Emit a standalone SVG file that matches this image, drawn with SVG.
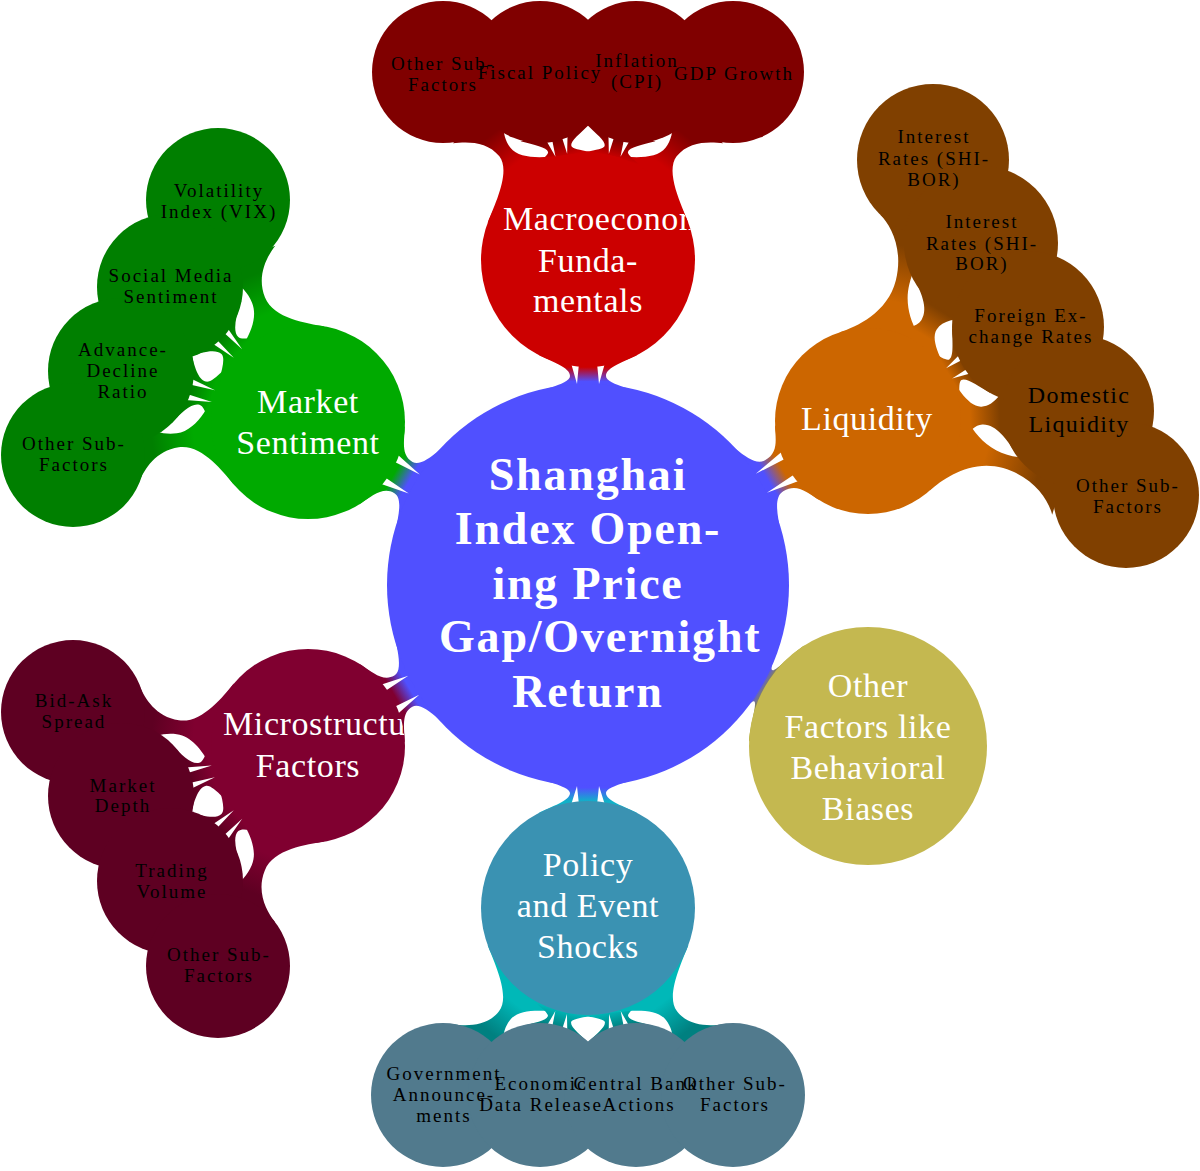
<svg xmlns="http://www.w3.org/2000/svg" width="1200" height="1171" viewBox="0 0 1200 1171">
<style>
.root{font-family:"Liberation Serif",serif;font-weight:bold;font-size:46px;letter-spacing:1.8px;fill:#fff;text-anchor:middle}
.l1{font-family:"Liberation Serif",serif;font-size:34px;letter-spacing:0.6px;fill:#fff;text-anchor:middle}
.l2{font-family:"Liberation Serif",serif;font-size:19px;letter-spacing:2px;fill:#000;text-anchor:middle}
.l2b{font-family:"Liberation Serif",serif;font-size:24px;letter-spacing:1.3px;fill:#000;text-anchor:middle}
.spk{fill:#fff}
</style>
<defs>
<linearGradient id="g1mac" x1="0" y1="0" x2="1" y2="0"><stop offset="0.4" stop-color="#5050FF"/><stop offset="0.72" stop-color="#CC0000"/></linearGradient>
<linearGradient id="g1liq" x1="0" y1="0" x2="1" y2="0"><stop offset="0.4" stop-color="#5050FF"/><stop offset="0.72" stop-color="#CC6600"/></linearGradient>
<linearGradient id="g1oth" x1="0" y1="0" x2="1" y2="0"><stop offset="0.4" stop-color="#5050FF"/><stop offset="0.72" stop-color="#9C9A10"/></linearGradient>
<linearGradient id="g1pol" x1="0" y1="0" x2="1" y2="0"><stop offset="0.4" stop-color="#5050FF"/><stop offset="0.72" stop-color="#10B2C8"/></linearGradient>
<linearGradient id="g1mic" x1="0" y1="0" x2="1" y2="0"><stop offset="0.4" stop-color="#5050FF"/><stop offset="0.72" stop-color="#800030"/></linearGradient>
<linearGradient id="g1mkt" x1="0" y1="0" x2="1" y2="0"><stop offset="0.4" stop-color="#5050FF"/><stop offset="0.72" stop-color="#00AA00"/></linearGradient>
<linearGradient id="g2mac" x1="0" y1="0" x2="1" y2="0"><stop offset="0.35" stop-color="#CC0000"/><stop offset="0.8" stop-color="#800000"/></linearGradient>
<linearGradient id="g2liq" x1="0" y1="0" x2="1" y2="0"><stop offset="0.35" stop-color="#CC6600"/><stop offset="0.8" stop-color="#804000"/></linearGradient>
<linearGradient id="g2mkt" x1="0" y1="0" x2="1" y2="0"><stop offset="0.35" stop-color="#00AA00"/><stop offset="0.8" stop-color="#007F00"/></linearGradient>
<linearGradient id="g2mic" x1="0" y1="0" x2="1" y2="0"><stop offset="0.35" stop-color="#800030"/><stop offset="0.8" stop-color="#5E0022"/></linearGradient>
<linearGradient id="g2pol" x1="0" y1="0" x2="1" y2="0"><stop offset="0.35" stop-color="#00B8B8"/><stop offset="0.8" stop-color="#008080"/></linearGradient>
<path id="cM_long" d="M90.7,-56.7 C100.2,-41.4 116.7,-7 136.2,-7 C155.7,-7 168,-23.9 175,-36 L175,36 C168,23.9 155.7,7 136.2,7 C116.7,7 100.2,41.4 90.7,56.7Z"/>
<path id="cM_short" d="M90.7,-56.7 C100.2,-41.4 109.5,-12 114.5,-12 C119.5,-12 124.6,-23.9 131.6,-36 L131.6,36 C124.6,23.9 119.5,12 114.5,12 C109.5,12 100.2,41.4 90.7,56.7Z"/>
<path id="sM_short" class="spk" d="M108,-6 L126,-5 L126,-11Z M108,6 L126,5 L126,11Z"/>
<path id="cL_269" d="M78.9,-49.3 C88.4,-34 110,-7 143,-7 C176,-7 196.2,-25.9 203.2,-38 L203.2,38 C196.2,25.9 176,7 143,7 C110,7 88.4,34 78.9,49.3Z"/>
<path id="cL_211" d="M78.9,-49.3 C88.4,-34 100,-9 114,-9 C128,-9 138.2,-25.9 145.2,-38 L145.2,38 C138.2,25.9 128,9 114,9 C100,9 88.4,34 78.9,49.3Z"/>
<path id="cL_186" d="M78.9,-49.3 C88.4,-34 95.8,-12 101.3,-12 C106.8,-12 112.8,-25.9 119.8,-38 L119.8,38 C112.8,25.9 106.8,12 101.3,12 C95.8,12 88.4,34 78.9,49.3Z"/>
<path id="sL_186" class="spk" d="M94,-6 L113,-5 L113,-11Z M94,6 L113,5 L113,11Z"/>
<path id="cS_long" d="M82.3,-51.4 C91.8,-36.1 108.5,-7 131.5,-7 C154.5,-7 168.6,-23.9 175.6,-36 L175.6,36 C168.6,23.9 154.5,7 131.5,7 C108.5,7 91.8,36.1 82.3,51.4Z"/>
<path id="cS_short" d="M82.3,-51.4 C91.8,-36.1 101.1,-12 109.3,-12 C117.5,-12 124.1,-23.9 131.1,-36 L131.1,36 C124.1,23.9 117.5,12 109.3,12 C101.1,12 91.8,36.1 82.3,51.4Z"/>
<path id="sS_short" class="spk" d="M98,-6 L124,-5 L124,-11Z M98,6 L124,5 L124,11Z"/>
<clipPath id="clipMac"><circle cx="588" cy="260" r="107"/></clipPath>
<clipPath id="clipMic"><circle cx="308" cy="746" r="97"/></clipPath>
</defs>

<g id="connectors">
  <g transform="translate(588,585) rotate(-90)">
    <path fill="url(#g1mac)" d="M185.4,-74.9 C194.4,-52.6 200,-18 209,-18 C218,-18 223,-36.1 230.5,-50.2 L230.5,50.2 C223,36.1 218,18 209,18 C200,18 194.4,52.6 185.4,74.9Z"/>
    <path class="spk" d="M201,-11 L222,-9 L222,-17Z M201,11 L222,9 L222,17Z"/>
  </g>
  <g transform="translate(588,585) rotate(-30.4)">
    <path fill="url(#g1liq)" d="M185.4,-74.9 C194.4,-52.6 200,-18 215.8,-18 C231.5,-18 234.9,-29.6 242.4,-43.7 L242.4,43.7 C234.9,29.6 231.5,18 215.8,18 C200,18 194.4,52.6 185.4,74.9Z"/>
    <path class="spk" d="M201,-11 L235,-9 L235,-17Z M201,11 L235,9 L235,17Z"/>
  </g>
  <g transform="translate(588,585) rotate(29.9)">
    <path fill="url(#g1oth)" d="M185.4,-74.9 C194.4,-52.6 198,-18 202,-18 C206,-18 210.4,-41.8 217.9,-55.9 L217.9,55.9 C210.4,41.8 206,18 202,18 C198,18 194.4,52.6 185.4,74.9Z"/>
  </g>
  <g transform="translate(588,585) rotate(90)">
    <path fill="url(#g1pol)" d="M185.4,-74.9 C194.4,-52.6 200,-18 208,-18 C216,-18 221,-36.1 228.5,-50.2 L228.5,50.2 C221,36.1 216,18 208,18 C200,18 194.4,52.6 185.4,74.9Z"/>
    <path class="spk" d="M201,-11 L220,-9 L220,-17Z M201,11 L220,9 L220,17Z"/>
  </g>
  <g transform="translate(588,585) rotate(150.1)">
    <path fill="url(#g1mic)" d="M185.4,-74.9 C194.4,-52.6 200,-18 213,-18 C226,-18 229.9,-31.4 237.4,-45.5 L237.4,45.5 C229.9,31.4 226,18 213,18 C200,18 194.4,52.6 185.4,74.9Z"/>
    <path class="spk" d="M201,-11 L230,-9 L230,-17Z M201,11 L230,9 L230,17Z"/>
  </g>
  <g transform="translate(588,585) rotate(-149.8)">
    <path fill="url(#g1mkt)" d="M185.4,-74.9 C194.4,-52.6 200,-18 213.5,-18 C227,-18 230.9,-31.4 238.4,-45.5 L238.4,45.5 C230.9,31.4 227,18 213.5,18 C200,18 194.4,52.6 185.4,74.9Z"/>
    <path class="spk" d="M201,-11 L231,-9 L231,-17Z M201,11 L231,9 L231,17Z"/>
  </g>

  <use href="#cM_long" transform="translate(588,260) rotate(-52.4)" fill="url(#g2mac)"/>
  <use href="#cM_short" transform="translate(588,260) rotate(-75.7)" fill="url(#g2mac)"/>
  <use href="#cM_short" transform="translate(588,260) rotate(-104.3)" fill="url(#g2mac)"/>
  <use href="#cM_long" transform="translate(588,260) rotate(-127.6)" fill="url(#g2mac)"/>
  <use href="#sM_short" transform="translate(588,260) rotate(-75.7)"/>
  <use href="#sM_short" transform="translate(588,260) rotate(-104.3)"/>

  <use href="#cL_269" transform="translate(868,421) rotate(-76)" fill="url(#g2liq)"/>
  <use href="#cL_211" transform="translate(868,421) rotate(-57.6)" fill="url(#g2liq)"/>
  <use href="#cL_186" transform="translate(868,421) rotate(-30.4)" fill="url(#g2liq)"/>
  <use href="#cL_211" transform="translate(868,421) rotate(-2.7)" fill="url(#g2liq)"/>
  <use href="#cL_269" transform="translate(868,421) rotate(16.4)" fill="url(#g2liq)"/>
  <use href="#sL_186" transform="translate(868,421) rotate(-30.4)"/>

  <use href="#cS_long" transform="translate(308,422) rotate(-112.1)" fill="url(#g2mkt)"/>
  <use href="#cS_short" transform="translate(308,422) rotate(-135.6)" fill="url(#g2mkt)"/>
  <use href="#cS_short" transform="translate(308,422) rotate(-164.7)" fill="url(#g2mkt)"/>
  <use href="#cS_long" transform="translate(308,422) rotate(172)" fill="url(#g2mkt)"/>
  <use href="#sS_short" transform="translate(308,422) rotate(-135.6)"/>
  <use href="#sS_short" transform="translate(308,422) rotate(-164.7)"/>

  <use href="#cS_long" transform="translate(308,746) rotate(-171.8)" fill="url(#g2mic)"/>
  <use href="#cS_short" transform="translate(308,746) rotate(165)" fill="url(#g2mic)"/>
  <use href="#cS_short" transform="translate(308,746) rotate(135.6)" fill="url(#g2mic)"/>
  <use href="#cS_long" transform="translate(308,746) rotate(112.2)" fill="url(#g2mic)"/>
  <use href="#sS_short" transform="translate(308,746) rotate(165)"/>
  <use href="#sS_short" transform="translate(308,746) rotate(135.6)"/>

  <use href="#cM_long" transform="translate(588,908) rotate(127.8)" fill="url(#g2pol)"/>
  <use href="#cM_short" transform="translate(588,908) rotate(104.4)" fill="url(#g2pol)"/>
  <use href="#cM_short" transform="translate(588,908) rotate(75.6)" fill="url(#g2pol)"/>
  <use href="#cM_long" transform="translate(588,908) rotate(52.2)" fill="url(#g2pol)"/>
  <use href="#sM_short" transform="translate(588,908) rotate(104.4)"/>
  <use href="#sM_short" transform="translate(588,908) rotate(75.6)"/>
</g>

<g id="nodes">
  <g id="node-root"><circle cx="588" cy="585" r="201" fill="#5050FF"/></g>
  <g id="node-macro"><circle cx="588" cy="260" r="107" fill="#CC0000"/></g>
  <g id="node-macro-other"><circle cx="443" cy="72" r="71" fill="#800000"/></g>
  <g id="node-fiscal"><circle cx="540" cy="72" r="71" fill="#800000"/></g>
  <g id="node-inflation"><circle cx="636" cy="72" r="71" fill="#800000"/></g>
  <g id="node-gdp"><circle cx="733" cy="72" r="71" fill="#800000"/></g>
  <g id="node-liquidity"><circle cx="868" cy="421" r="93" fill="#CC6600"/></g>
  <g id="node-shibor1"><circle cx="933" cy="160" r="76" fill="#804000"/></g>
  <g id="node-shibor2"><circle cx="981" cy="243" r="77" fill="#804000"/></g>
  <g id="node-fx"><circle cx="1028" cy="327" r="76" fill="#804000"/></g>
  <g id="node-domestic"><circle cx="1078" cy="411" r="76" fill="#804000"/></g>
  <g id="node-liq-other"><circle cx="1126" cy="495" r="73" fill="#804000"/></g>
  <g id="node-market"><circle cx="308" cy="422" r="97" fill="#00AA00"/></g>
  <g id="node-vix"><circle cx="218" cy="200" r="72" fill="#007F00"/></g>
  <g id="node-social"><circle cx="170" cy="287" r="73" fill="#007F00"/></g>
  <g id="node-advdec"><circle cx="121" cy="371" r="73" fill="#007F00"/></g>
  <g id="node-mkt-other"><circle cx="73" cy="455" r="72" fill="#007F00"/></g>
  <g id="node-micro"><circle cx="308" cy="746" r="97" fill="#800030"/></g>
  <g id="node-bidask"><circle cx="73" cy="712" r="72" fill="#5E0022"/></g>
  <g id="node-depth"><circle cx="121" cy="796" r="73" fill="#5E0022"/></g>
  <g id="node-volume"><circle cx="170" cy="881" r="73" fill="#5E0022"/></g>
  <g id="node-mic-other"><circle cx="218" cy="966" r="72" fill="#5E0022"/></g>
  <g id="node-policy"><circle cx="588" cy="908" r="107" fill="#3A92B2"/></g>
  <g id="node-gov"><circle cx="443" cy="1095" r="72" fill="#517A8D"/></g>
  <g id="node-econ"><circle cx="540" cy="1095" r="72" fill="#517A8D"/></g>
  <g id="node-cb"><circle cx="636" cy="1095" r="72" fill="#517A8D"/></g>
  <g id="node-pol-other"><circle cx="733" cy="1095" r="72" fill="#517A8D"/></g>
  <g id="node-behavioral"><circle cx="868" cy="746" r="119" fill="#C4B850"/></g>
</g>

<g id="labels">
  <g id="label-root" class="root">
    <text x="588" y="490">Shanghai</text>
    <text x="588" y="544">Index Open-</text>
    <text x="588" y="599">ing Price</text>
    <text x="439" y="652" style="text-anchor:start">Gap/Overnight</text>
    <text x="588" y="707">Return</text>
  </g>
  <g id="label-macro" class="l1" clip-path="url(#clipMac)">
    <text x="503" y="230" style="text-anchor:start">Macroeconomic</text>
    <text x="588" y="272">Funda-</text>
    <text x="588" y="312">mentals</text>
  </g>
  <g id="label-liquidity" class="l1"><text x="867" y="430">Liquidity</text></g>
  <g id="label-market" class="l1"><text x="308" y="413">Market</text><text x="308" y="454">Sentiment</text></g>
  <g id="label-micro" class="l1" clip-path="url(#clipMic)">
    <text x="223" y="735" style="text-anchor:start">Microstructure</text>
    <text x="308" y="777">Factors</text>
  </g>
  <g id="label-policy" class="l1"><text x="588" y="876">Policy</text><text x="588" y="917">and Event</text><text x="588" y="958">Shocks</text></g>
  <g id="label-behavioral" class="l1"><text x="868" y="697">Other</text><text x="868" y="738">Factors like</text><text x="868" y="779">Behavioral</text><text x="868" y="820">Biases</text></g>

  <g id="label-macro-other" class="l2"><text x="443" y="70">Other Sub-</text><text x="443" y="91">Factors</text></g>
  <g id="label-fiscal" class="l2"><text x="540" y="79">Fiscal Policy</text></g>
  <g id="label-inflation" class="l2"><text x="637" y="67">Inflation</text><text x="637" y="88">(CPI)</text></g>
  <g id="label-gdp" class="l2"><text x="734" y="80">GDP Growth</text></g>

  <g id="label-shibor1" class="l2"><text x="934" y="143">Interest</text><text x="934" y="165">Rates (SHI-</text><text x="934" y="186">BOR)</text></g>
  <g id="label-shibor2" class="l2"><text x="982" y="228">Interest</text><text x="982" y="250">Rates (SHI-</text><text x="982" y="270">BOR)</text></g>
  <g id="label-fx" class="l2"><text x="1031" y="322">Foreign Ex-</text><text x="1031" y="343">change Rates</text></g>
  <g id="label-domestic" class="l2b"><text x="1079" y="403">Domestic</text><text x="1079" y="432">Liquidity</text></g>
  <g id="label-liq-other" class="l2"><text x="1128" y="492">Other Sub-</text><text x="1128" y="513">Factors</text></g>

  <g id="label-vix" class="l2"><text x="219" y="197">Volatility</text><text x="219" y="218">Index (VIX)</text></g>
  <g id="label-social" class="l2"><text x="171" y="282">Social Media</text><text x="171" y="303">Sentiment</text></g>
  <g id="label-advdec" class="l2"><text x="123" y="356">Advance-</text><text x="123" y="377">Decline</text><text x="123" y="398">Ratio</text></g>
  <g id="label-mkt-other" class="l2"><text x="74" y="450">Other Sub-</text><text x="74" y="471">Factors</text></g>

  <g id="label-bidask" class="l2"><text x="74" y="707">Bid-Ask</text><text x="74" y="728">Spread</text></g>
  <g id="label-depth" class="l2"><text x="123" y="792">Market</text><text x="123" y="812">Depth</text></g>
  <g id="label-volume" class="l2"><text x="172" y="877">Trading</text><text x="172" y="898">Volume</text></g>
  <g id="label-mic-other" class="l2"><text x="219" y="961">Other Sub-</text><text x="219" y="982">Factors</text></g>

  <g id="label-gov" class="l2"><text x="444" y="1080">Government</text><text x="444" y="1101">Announce-</text><text x="444" y="1122">ments</text></g>
  <g id="label-econ" class="l2"><text x="541" y="1090">Economic</text><text x="541" y="1111">Data Release</text></g>
  <g id="label-cb" class="l2"><text x="636" y="1090">Central Bank</text><text x="639" y="1111">Actions</text></g>
  <g id="label-pol-other" class="l2"><text x="735" y="1090">Other Sub-</text><text x="735" y="1111">Factors</text></g>
</g>
</svg>
